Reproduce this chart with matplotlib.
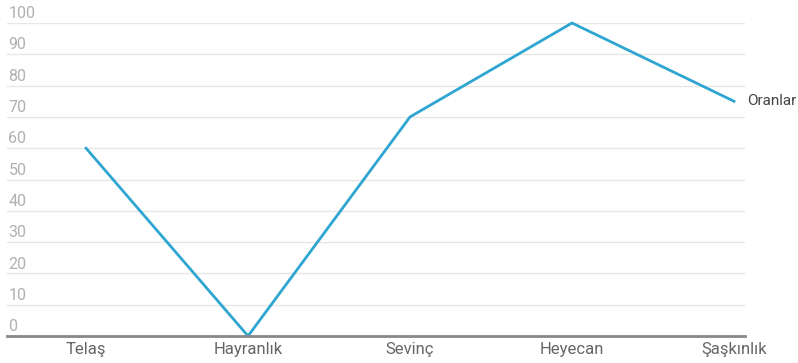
import matplotlib
matplotlib.use("Agg")
import matplotlib.pyplot as plt

categories = ["Telaş", "Hayranlık", "Sevinç", "Heyecan", "Şaşkınlık"]
values = [60, 0, 70, 100, 75]
y_ticks = [0, 10, 20, 30, 40, 50, 60, 70, 80, 90, 100]
series_name = "Oranlar"

W, H = 798, 363
fig = plt.figure(figsize=(W / 100, H / 100), dpi=100)
left, right, bottom, top = 7, 745, 336, 23
ax = fig.add_axes([left / W, 1 - bottom / H, (right - left) / W, (bottom - top) / H])

line_color = "#2ea6d1"
x = list(range(len(categories)))
ax.plot(x, values, color=line_color, linewidth=2.0, clip_on=False, solid_joinstyle="miter")

ax.set_ylim(0, 100)
ax.set_xlim(-0.488, 4.068)

for s in ["top", "right", "left"]:
    ax.spines[s].set_visible(False)
ax.spines["bottom"].set_color("#888888")
ax.spines["bottom"].set_linewidth(2)

for t in y_ticks:
    if t > 0:
        ax.axhline(t, color="#e6e6e6", linewidth=1, zorder=0)
    ax.text(0.002, t + 0.6, str(t), transform=ax.get_yaxis_transform(),
            color="#b0b0b0", fontsize=11.5, ha="left", va="bottom", family="Roboto")

ax.set_yticks([])
ax.set_xticks(x)
ax.set_xticklabels(categories, color="#666666", fontsize=12, family="Roboto")
ax.tick_params(axis="x", length=0, pad=4)

ax.text(x[-1] + 0.08, values[-1], series_name, color="#444444", fontsize=11,
        family="Roboto", ha="left", va="center", transform=ax.transData, clip_on=False)

fig.savefig("out.png", dpi=100)
